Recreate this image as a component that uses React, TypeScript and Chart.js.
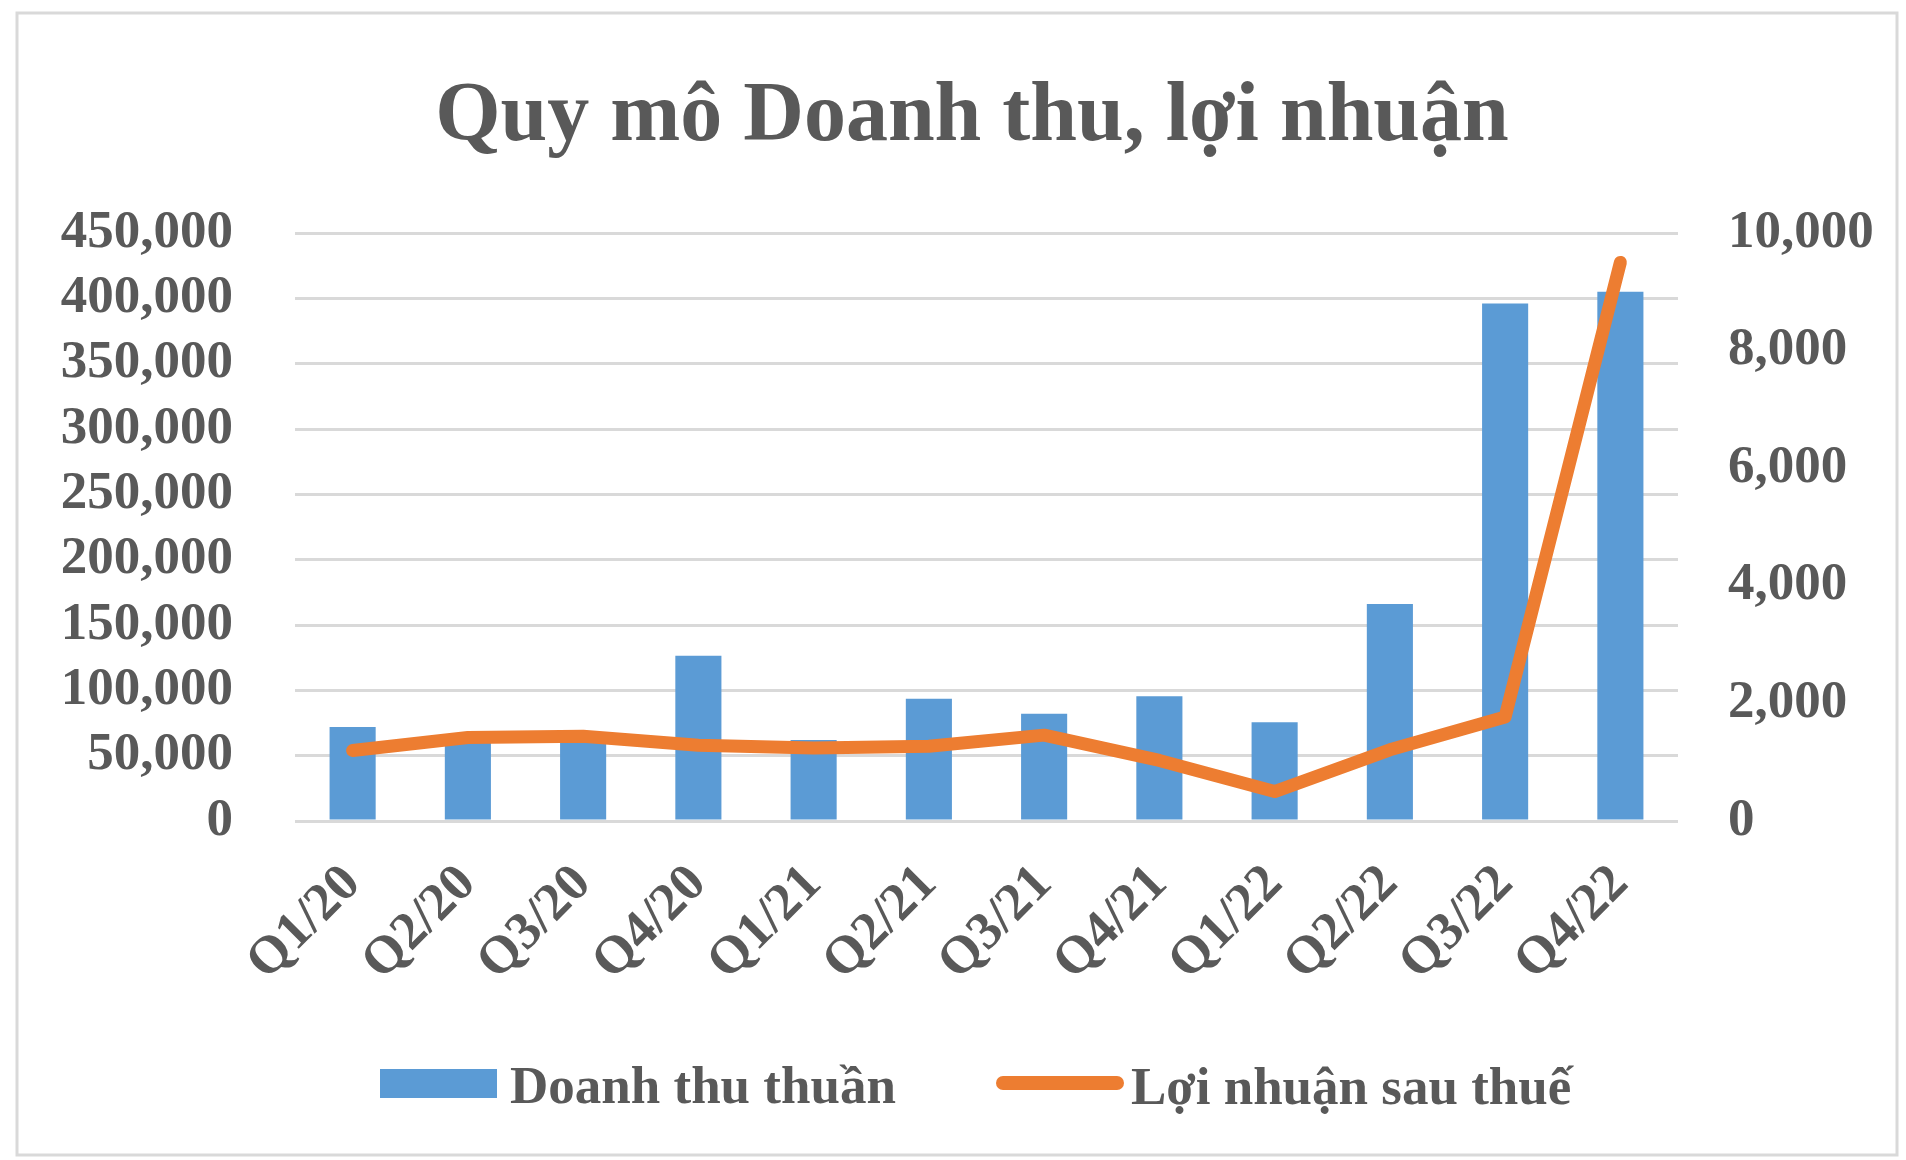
import React, { useEffect, useRef } from 'react';
import { Chart, registerables } from 'chart.js';

Chart.register(...registerables);

const categories = ['Q1/20', 'Q2/20', 'Q3/20', 'Q4/20', 'Q1/21', 'Q2/21', 'Q3/21', 'Q4/21', 'Q1/22', 'Q2/22', 'Q3/22', 'Q4/22'];
const revenue = [72000, 62000, 61000, 126500, 62000, 93500, 82000, 95500, 75500, 166000, 396000, 405000];
const profit = [1200, 1420, 1440, 1290, 1240, 1270, 1460, 1030, 500, 1210, 1770, 9500];
const leftAxis = { min: 0, max: 450000, step: 50000 };
const rightAxis = { min: 0, max: 10000, step: 2000 };
const titleText = 'Quy mô Doanh thu, lợi nhuận';
const seriesNames = ['Doanh thu thuần', 'Lợi nhuận sau thuế'];

const BLUE = '#5B9BD5';
const ORANGE = '#ED7D31';
const TEXT = '#595959';
const GRID = '#d9d9d9';
const FONT = '"Liberation Serif", "Times New Roman", serif';

const decorPlugin = {
  id: 'decor',
  beforeDraw(chart: any) {
    const ctx = chart.ctx;
    ctx.save();
    ctx.strokeStyle = GRID;
    ctx.lineWidth = 3;
    ctx.strokeRect(17, 13, 1880, 1142);
    ctx.restore();
  },
  afterDraw(chart: any) {
    const ctx = chart.ctx;
    ctx.save();
    // title
    ctx.fillStyle = TEXT;
    ctx.font = `bold 84px ${FONT}`;
    ctx.textAlign = 'center';
    ctx.textBaseline = 'alphabetic';
    ctx.fillText(titleText, 972, 140, 1081);
    // legend
    ctx.fillStyle = BLUE;
    ctx.fillRect(380, 1069, 117, 29);
    ctx.fillStyle = TEXT;
    ctx.font = `bold 53px ${FONT}`;
    ctx.textAlign = 'left';
    ctx.fillText(seriesNames[0], 510, 1103, 396);
    ctx.strokeStyle = ORANGE;
    ctx.lineWidth = 14;
    ctx.lineCap = 'round';
    ctx.beginPath();
    ctx.moveTo(1003, 1083);
    ctx.lineTo(1117, 1083);
    ctx.stroke();
    ctx.fillStyle = TEXT;
    ctx.fillText(seriesNames[1], 1131, 1104, 455);
    ctx.restore();
  },
};

export default function App() {
  const ref = useRef<HTMLCanvasElement | null>(null);
  useEffect(() => {
    if (!ref.current) return;
    const tickFont = { family: FONT, size: 53, weight: 'bold' as const };
    const chart = new Chart(ref.current, {
      type: 'bar',
      data: {
        labels: categories,
        datasets: [
          {
            type: 'line',
            label: seriesNames[1],
            data: profit,
            yAxisID: 'y1',
            borderColor: ORANGE,
            backgroundColor: ORANGE,
            borderWidth: 13,
            pointRadius: 0,
            tension: 0,
            borderJoinStyle: 'round',
            borderCapStyle: 'round',
            order: 1,
          } as any,
          {
            type: 'bar',
            label: seriesNames[0],
            data: revenue,
            yAxisID: 'y',
            backgroundColor: BLUE,
            barPercentage: 0.4,
            categoryPercentage: 1,
            order: 2,
          },
        ],
      },
      options: {
        responsive: false,
        maintainAspectRatio: false,
        animation: false,
        layout: { padding: { top: 233, left: 0, right: 0, bottom: 0 } },
        plugins: {
          legend: { display: false },
          title: { display: false },
          tooltip: { enabled: false },
        },
        scales: {
          x: {
            grid: { display: false, drawTicks: false },
            border: { display: false },
            ticks: { font: tickFont, color: TEXT, maxRotation: 45, minRotation: 45, padding: 32, autoSkip: false },
            afterFit: (s: any) => { s.height = 339; },
          },
          y: {
            position: 'left',
            min: leftAxis.min,
            max: leftAxis.max,
            ticks: {
              stepSize: leftAxis.step,
              autoSkip: false,
              padding: 62,
              font: tickFont,
              color: TEXT,
              callback: (v: any) => Number(v).toLocaleString('en-US'),
            },
            grid: { color: GRID, lineWidth: 3, drawTicks: false },
            border: { display: false },
            afterFit: (s: any) => { s.width = 295; },
          },
          y1: {
            position: 'right',
            min: rightAxis.min,
            max: rightAxis.max,
            ticks: {
              stepSize: rightAxis.step,
              autoSkip: false,
              padding: 50,
              font: tickFont,
              color: TEXT,
              callback: (v: any) => Number(v).toLocaleString('en-US'),
            },
            grid: { display: false, drawTicks: false },
            border: { display: false },
            afterFit: (s: any) => { s.width = 228; },
          },
        },
      } as any,
      plugins: [decorPlugin],
    });
    return () => chart.destroy();
  }, []);
  return (
    <div style={{ position: 'fixed', left: 0, top: 0, width: 1906, height: 1160, background: '#fff' }}>
      <canvas ref={ref} width={1906} height={1160} style={{ width: 1906, height: 1160, display: 'block' }} />
    </div>
  );
}
